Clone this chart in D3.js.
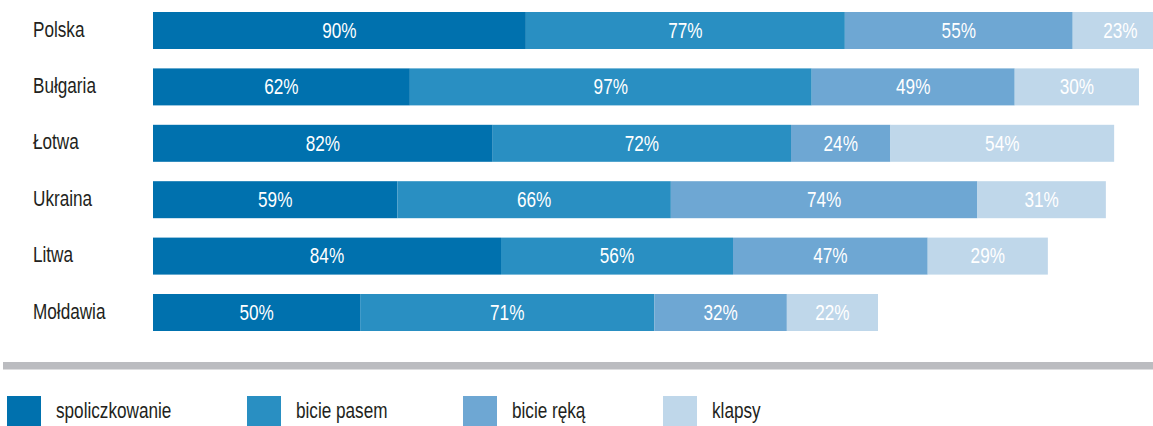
<!DOCTYPE html>
<html>
<head>
<meta charset="utf-8">
<title>Stacked bars</title>
<script src="https://cdn.jsdelivr.net/npm/d3@7"></script>
<style>
  body { margin: 0; background: #fff; }
  text { font-family: "Liberation Sans", Arial, sans-serif; }
</style>
</head>
<body>
<svg id="chart" width="1153" height="426"></svg>
<script>
// data
var countries = ["Polska", "Bułgaria", "Łotwa", "Ukraina", "Litwa", "Mołdawia"];
var series = ["spoliczkowanie", "bicie pasem", "bicie ręką", "klapsy"];
var spoliczkowanie = [90, 62, 82, 59, 84, 50];
var biciePasem     = [77, 97, 72, 66, 56, 71];
var bicieReka      = [55, 49, 24, 74, 47, 32];
var klapsy         = [23, 30, 54, 31, 29, 22];
var colors = ["#0071ae", "#298fc2", "#6ea7d3", "#bfd7ea"];

var rows = countries.map(function(c, i) {
  return { country: c, spoliczkowanie: spoliczkowanie[i], "bicie pasem": biciePasem[i],
           "bicie ręką": bicieReka[i], klapsy: klapsy[i] };
});

var svg = d3.select("#chart");
var squeeze = 0.78; // condensed look

var x = d3.scaleLinear().domain([0, 245]).range([153, 1168]);
var y = d3.scaleBand().domain(countries).range([12, 331]).paddingInner(0.344).paddingOuter(0);
var color = d3.scaleOrdinal().domain(series).range(colors);

var stack = d3.stack().keys(series)(rows);

var layer = svg.selectAll("g.layer")
  .data(stack)
  .enter().append("g")
  .attr("class", "layer")
  .attr("fill", function(d) { return color(d.key); });

layer.selectAll("rect")
  .data(function(d) { return d; })
  .enter().append("rect")
  .attr("x", function(d) { return x(d[0]); })
  .attr("y", function(d) { return y(d.data.country); })
  .attr("width", function(d) { return x(d[1]) - x(d[0]); })
  .attr("height", y.bandwidth());

layer.selectAll("text")
  .data(function(d) { return d; })
  .enter().append("text")
  .attr("transform", function(d) {
    return "translate(" + (x(d[0]) + x(d[1])) / 2 + "," + (y(d.data.country) + y.bandwidth() / 2) + ") scale(" + squeeze + ",1)";
  })
  .attr("dy", "0.33em")
  .attr("text-anchor", "middle")
  .attr("fill", "#fff")
  .attr("font-size", 22)
  .text(function(d) { return (d[1] - d[0]) + "%"; });

// country labels
svg.selectAll("text.country")
  .data(countries)
  .enter().append("text")
  .attr("class", "country")
  .attr("transform", function(d) {
    return "translate(33," + (y(d) + y.bandwidth() / 2) + ") scale(" + squeeze + ",1)";
  })
  .attr("dy", "0.28em")
  .attr("fill", "#231f20")
  .attr("font-size", 22)
  .text(function(d) { return d; });

// separator
svg.append("rect")
  .attr("x", 3).attr("y", 362)
  .attr("width", 1150).attr("height", 7.5)
  .attr("fill", "#bbbcc0");

// legend
var legendX = [7, 247, 463, 663];
var legend = svg.selectAll("g.legend")
  .data(series)
  .enter().append("g")
  .attr("class", "legend")
  .attr("transform", function(d, i) { return "translate(" + legendX[i] + ",396)"; });

legend.append("rect")
  .attr("width", 34).attr("height", 30)
  .attr("fill", function(d) { return color(d); });

legend.append("text")
  .attr("transform", "translate(49,15) scale(" + squeeze + ",1)")
  .attr("dy", "0.3em")
  .attr("fill", "#231f20")
  .attr("font-size", 22)
  .text(function(d) { return d; });
</script>
</body>
</html>
